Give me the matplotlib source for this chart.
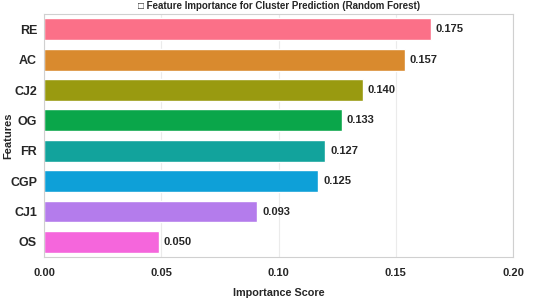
import matplotlib
matplotlib.use("Agg")
import matplotlib.pyplot as plt
import seaborn as sns

# feature importances, top to bottom
features = ['RE', 'AC', 'CJ2', 'OG', 'FR', 'CGP', 'CJ1', 'OS']
importance = [0.165, 0.154, 0.136, 0.127, 0.120, 0.117, 0.091, 0.049]
value_labels = ['0.175', '0.157', '0.140', '0.133', '0.127', '0.125', '0.093', '0.050']
x_ticks = [0.00, 0.05, 0.10, 0.15, 0.20]
bar_colors = ['#fb7088', '#d98a2e', '#999a10', '#0aa64a',
              '#12a39c', '#0ea0d8', '#b47cec', '#f566dc']


def main():
  sns.set_style('whitegrid')
  plt.rcParams['font.family'] = ['Liberation Sans', 'DejaVu Sans']

  fig, ax = plt.subplots(figsize=(5.5, 3.01), dpi=100)
  fig.subplots_adjust(left=0.08, right=0.933, top=0.953, bottom=0.146)

  ypos = list(range(len(features)))
  ax.barh(ypos, importance, height=0.72, color=bar_colors)
  ax.set_ylim(len(features) - 0.5, -0.5)
  ax.set_yticks(ypos)
  ax.set_yticklabels(features, fontsize=9, fontweight='bold')

  # value labels to the right of each bar
  for y, v, lab in zip(ypos, importance, value_labels):
    ax.text(v + 0.002, y, lab, va='center', ha='left', fontsize=8, fontweight='bold')

  ax.set_xlim(0, 0.2)
  ax.set_xticks(x_ticks)
  ax.set_xticklabels(['%.2f' % t for t in x_ticks], fontsize=8, fontweight='bold')
  ax.tick_params(axis='x', pad=8, length=0)
  ax.tick_params(axis='y', pad=5, length=0)
  ax.grid(axis='y', visible=False)
  ax.grid(axis='x', color='#ebebeb', linewidth=0.8)
  for s in ax.spines.values():
    s.set_color('#d0d0d0')

  ax.set_xlabel('Importance Score', fontsize=7.8, fontweight='bold', labelpad=7)
  ax.set_ylabel('Features', fontsize=8, fontweight='bold')
  ax.yaxis.set_label_coords(-0.066, 0.5)
  ax.set_title('\u25a1 Feature Importance for Cluster Prediction (Random Forest)',
               fontsize=7, fontweight='bold', pad=4)

  fig.savefig('out.png', dpi=100)


if __name__ == '__main__':
  main()
